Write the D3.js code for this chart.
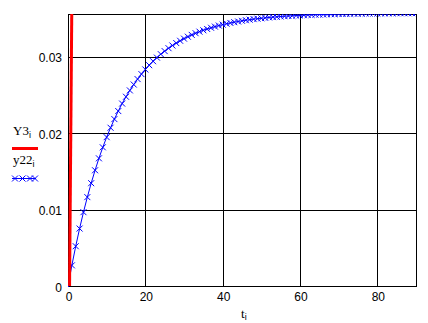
<!DOCTYPE html>
<html>
<head>
<meta charset="utf-8">
<title>Y3 / y22</title>
<style>
    body { margin: 0; background: #fff; }
    .tick-label { font-family: "Liberation Sans", Arial, sans-serif; font-size: 12px; fill: #000; }
    .legend-text { font-family: "Liberation Serif", "Times New Roman", serif; font-size: 13px; fill: #000; }
    .grid line { stroke: #000; stroke-width: 1; shape-rendering: crispEdges; }
</style>
</head>
<body>
<div id="chart"></div>
<script src="https://d3js.org/d3.v7.min.js"></script>
<script>
// x ticks and y ticks
var xTicks = [0, 20, 40, 60, 80];
var yTicks = [0, 0.01, 0.02, 0.03];
var yTickLabels = ["0", "0.01", "0.02", "0.03"];

// Y3: the steep red trace at the left edge
var t3 = [0.4, 1.0];
var Y3 = [0, 0.0375];

// y22: blue trace, one point per unit of t
var t22 = d3.range(0, 91);
var y22 = [
    0, 0.00270, 0.00520, 0.00751, 0.00965, 0.01162, 0.01344, 0.01513, 0.01669, 0.01813,
    0.01946, 0.02069, 0.02182, 0.02287, 0.02385, 0.02474, 0.02557, 0.02634, 0.02705, 0.02770,
    0.02831, 0.02887, 0.02939, 0.02986, 0.03031, 0.03071, 0.03109, 0.03144, 0.03176, 0.03206,
    0.03234, 0.03259, 0.03283, 0.03305, 0.03325, 0.03343, 0.03360, 0.03376, 0.03391, 0.03405,
    0.03417, 0.03429, 0.03439, 0.03449, 0.03458, 0.03467, 0.03475, 0.03482, 0.03489, 0.03495,
    0.03500, 0.03506, 0.03511, 0.03515, 0.03519, 0.03523, 0.03527, 0.03530, 0.03533, 0.03536,
    0.03538, 0.03541, 0.03543, 0.03545, 0.03547, 0.03549, 0.03550, 0.03552, 0.03553, 0.03554,
    0.03556, 0.03557, 0.03558, 0.03559, 0.03560, 0.03560, 0.03561, 0.03562, 0.03562, 0.03563,
    0.03563, 0.03564, 0.03564, 0.03565, 0.03565, 0.03566, 0.03566, 0.03566, 0.03566, 0.03567,
    0.03567
];

var W = 428, H = 323;
var pLeft = 68, pRight = 416, pTop = 14, pBottom = 286;

var svg = d3.select("#chart").append("svg")
    .attr("width", W)
    .attr("height", H);

var x = d3.scaleLinear().domain([0, 90]).range([pLeft, pRight]);
var y = d3.scaleLinear().domain([0, 0.03556]).range([pBottom, pTop]);

function px(v) { return Math.round(v) + 0.5; }

// grid
var grid = svg.append("g").attr("class", "grid");
grid.selectAll(".vx").data(xTicks).enter().append("line")
    .attr("x1", function(d) { return px(x(d)); })
    .attr("x2", function(d) { return px(x(d)); })
    .attr("y1", pTop + 0.5).attr("y2", pBottom + 0.5);
grid.selectAll(".hy").data(yTicks).enter().append("line")
    .attr("y1", function(d) { return px(y(d)); })
    .attr("y2", function(d) { return px(y(d)); })
    .attr("x1", pLeft + 0.5).attr("x2", pRight + 0.5);

// frame
svg.append("rect")
    .attr("x", pLeft + 0.5).attr("y", pTop + 0.5)
    .attr("width", pRight - pLeft).attr("height", pBottom - pTop)
    .attr("fill", "none").attr("stroke", "#000")
    .attr("shape-rendering", "crispEdges");

// tick labels
svg.selectAll(".xl").data(xTicks).enter().append("text")
    .attr("class", "tick-label")
    .attr("x", function(d) { return x(d) + 1; })
    .attr("y", 301)
    .attr("text-anchor", "middle")
    .text(function(d) { return d; });

svg.selectAll(".yl").data(yTicks).enter().append("text")
    .attr("class", "tick-label")
    .attr("x", 62)
    .attr("y", function(d) { return y(d) + 5.5; })
    .attr("text-anchor", "end")
    .text(function(d, i) { return yTickLabels[i]; });

// clip to plot area
svg.append("clipPath").attr("id", "clip")
    .append("rect")
    .attr("x", pLeft).attr("y", pTop)
    .attr("width", pRight - pLeft + 1).attr("height", pBottom - pTop + 1);

var plot = svg.append("g").attr("clip-path", "url(#clip)");

var line = d3.line()
    .x(function(d) { return x(d[0]); })
    .y(function(d) { return y(d[1]); });

// y22 blue line with x markers
var d22 = t22.map(function(t, i) { return [t, y22[i]]; });
plot.append("path")
    .datum(d22)
    .attr("d", line)
    .attr("fill", "none")
    .attr("stroke", "#0000ff")
    .attr("stroke-width", 1);

var s = 3;
plot.selectAll(".mk").data(d22).enter().append("path")
    .attr("d", function(d) {
        var cx = x(d[0]), cy = y(d[1]);
        return "M" + (cx - s) + "," + (cy - s) + "L" + (cx + s) + "," + (cy + s) +
               "M" + (cx - s) + "," + (cy + s) + "L" + (cx + s) + "," + (cy - s);
    })
    .attr("stroke", "#0000ff")
    .attr("stroke-width", 1)
    .attr("fill", "none");

// Y3 red line
var dY3 = t3.map(function(t, i) { return [t, Y3[i]]; });
plot.append("path")
    .datum(dY3)
    .attr("d", line)
    .attr("fill", "none")
    .attr("stroke", "#ff0000")
    .attr("stroke-width", 3);

// legend
var lg = svg.append("g");
var t1 = lg.append("text").attr("class", "legend-text").attr("x", 13).attr("y", 135);
t1.append("tspan").text("Y3");
t1.append("tspan").attr("font-size", "9px").attr("font-family", "Liberation Sans, Arial, sans-serif")
    .attr("dy", 3).text("i");
lg.append("line")
    .attr("x1", 12).attr("x2", 38).attr("y1", 148.5).attr("y2", 148.5)
    .attr("stroke", "#ff0000").attr("stroke-width", 3);

var t2 = lg.append("text").attr("class", "legend-text").attr("x", 13).attr("y", 164);
t2.append("tspan").text("y22");
t2.append("tspan").attr("font-size", "9px").attr("font-family", "Liberation Sans, Arial, sans-serif")
    .attr("dy", 3).text("i");
lg.append("line")
    .attr("x1", 12).attr("x2", 36).attr("y1", 178.5).attr("y2", 178.5)
    .attr("stroke", "#0000ff").attr("stroke-width", 1);
lg.selectAll(".lm").data([15, 22.5, 30, 35]).enter().append("path")
    .attr("d", function(d) {
        var cy = 178.5;
        return "M" + (d - s) + "," + (cy - s) + "L" + (d + s) + "," + (cy + s) +
               "M" + (d - s) + "," + (cy + s) + "L" + (d + s) + "," + (cy - s);
    })
    .attr("stroke", "#0000ff").attr("fill", "none");

// x axis label
var xl = svg.append("text").attr("class", "legend-text")
    .attr("x", 241).attr("y", 318);
xl.append("tspan").text("t");
xl.append("tspan").attr("font-size", "9px").attr("font-family", "Liberation Sans, Arial, sans-serif")
    .attr("dy", 2).text("i");
</script>
</body>
</html>
